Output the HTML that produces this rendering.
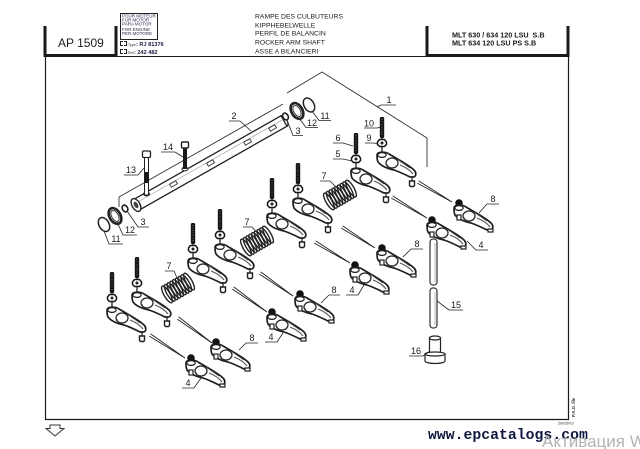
<!DOCTYPE html>
<html><head><meta charset="utf-8"><style>
html,body{margin:0;padding:0;background:#fff;}
body{width:640px;height:449px;overflow:hidden;}
svg{display:block;}
text{font-family:"Liberation Sans",Arial,sans-serif;}
</style></head><body>
<svg width="640" height="449" viewBox="0 0 640 449" xmlns="http://www.w3.org/2000/svg" xmlns:xlink="http://www.w3.org/1999/xlink">
<defs>
 <g id="body">
  <path d="M-5,0 C-5,-3 3,-4 7,-1 L19,6 C24,9 29,12 32,15 C35,18 34,22 31,22 L28,22 C24,20 18,17 12,15 C6,14 -1,11 -4,7 C-5,5 -5,2 -5,0 Z" fill="#fff" stroke="#1e1e1e" stroke-width="1.7"/>
  <path d="M18,10 C23,12 28,15 31,19" stroke="#555" stroke-width="1.2" fill="none"/>
  <ellipse cx="10" cy="8" rx="6" ry="5" fill="#fff" stroke="#2a2a2a" stroke-width="1.3"/>
  <ellipse cx="0" cy="0" rx="4.2" ry="2.4" fill="none" stroke="#1e1e1e" stroke-width="1.2"/>
  <path d="M15,4 L28,13" stroke="#444" stroke-width="0.9" fill="none"/>
  <circle cx="5" cy="10" r="0.8" fill="#333"/>
 </g>
 <g id="rA">
  <rect x="-2.2" y="-38" width="4.4" height="21" rx="1.5" fill="#151515"/>
  <line x1="0" y1="-36" x2="0" y2="-19" stroke="#666" stroke-width="1" stroke-dasharray="1 1.5"/>
  <line x1="0" y1="-17" x2="0" y2="-3" stroke="#222" stroke-width="1.3"/>
  <path d="M-4.5,-13 L-2.5,-15.5 L2.5,-15.5 L4.5,-13 L4.5,-10.5 L2.5,-8.5 L-2.5,-8.5 L-4.5,-10.5 Z" fill="#fff" stroke="#151515" stroke-width="1.5"/>
  <circle cx="0" cy="-12" r="1.5" fill="#222"/>
  <use xlink:href="#body" href="#body"/>
  <line x1="30" y1="22" x2="30" y2="26" stroke="#222" stroke-width="1.2"/>
  <path d="M27.5,26 h5 v4.5 l-1,1 h-3 l-1,-1 z" fill="#fff" stroke="#1e1e1e" stroke-width="1.4"/>
 </g>
 <g id="rB">
  <rect x="-2.5" y="0" width="5" height="6" fill="#333"/>
  <circle cx="0" cy="0" r="3.8" fill="#111"/>
  <g transform="translate(0,5)"><use xlink:href="#body" href="#body"/></g>
  <rect x="-2" y="12" width="4" height="5" fill="#fff" stroke="#222" stroke-width="1.2"/>
  <path d="M29,26 h5 v3 h-5 z" fill="#fff" stroke="#222" stroke-width="1.2"/>
 </g>
 <g id="sp" fill="none" stroke="#222" stroke-width="1.4">
  <ellipse cx="-11" cy="6.4" rx="3" ry="9.5" transform="rotate(-30 -11 6.4)" fill="#fff"/>
  <ellipse cx="-8.25" cy="4.8" rx="3" ry="9.5" transform="rotate(-30 -8.25 4.8)"/>
  <ellipse cx="-5.5" cy="3.2" rx="3" ry="9.5" transform="rotate(-30 -5.5 3.2)"/>
  <ellipse cx="-2.75" cy="1.6" rx="3" ry="9.5" transform="rotate(-30 -2.75 1.6)"/>
  <ellipse cx="0" cy="0" rx="3" ry="9.5" transform="rotate(-30 0 0)"/>
  <ellipse cx="2.75" cy="-1.6" rx="3" ry="9.5" transform="rotate(-30 2.75 -1.6)"/>
  <ellipse cx="5.5" cy="-3.2" rx="3" ry="9.5" transform="rotate(-30 5.5 -3.2)"/>
  <ellipse cx="8.25" cy="-4.8" rx="3" ry="9.5" transform="rotate(-30 8.25 -4.8)"/>
  <ellipse cx="11" cy="-6.4" rx="3" ry="9.5" transform="rotate(-30 11 -6.4)"/>
 </g>
</defs>

<!-- frame -->
<g stroke="#1a1a1a" fill="none">
 <path d="M45,26 V55.5 H116 V26" stroke-width="3"/>
 <path d="M427,26 V55.5 H568 V26" stroke-width="3"/>
 <line x1="116" y1="56.5" x2="427" y2="56.5" stroke-width="1"/>
 <path d="M45.5,56 V419.5 H568.5 V56" stroke-width="1.2"/>
</g>

<!-- header -->
<text x="58" y="47" font-size="12" fill="#1a1a1a">AP 1509</text>
<rect x="120.5" y="13.5" width="37" height="26" fill="none" stroke="#222" stroke-width="1"/>
<g font-size="4.5" fill="#2a2a50">
 <text x="122" y="17.5">POUR MOTEUR</text>
 <text x="122" y="21.5">FUR MOTOR</text>
 <text x="122" y="25.5">PARA MOTOR</text>
 <text x="122" y="31">FOR ENGINE</text>
 <text x="122" y="35">PER MOTORE</text>
</g>
<path d="M123,41.5 H120.5 V45.5 H123 M124,41.5 H126.5 V45.5 H124 M123,49.5 H120.5 V53.5 H123 M124,49.5 H126.5 V53.5 H124" fill="none" stroke="#222" stroke-width="1"/>
<text x="128" y="45.8" font-size="3.6" fill="#222">Type</text>
<text x="136" y="45.8" font-size="5.6" font-weight="bold" fill="#1a1a40">: RJ 81376</text>
<text x="128" y="53.8" font-size="3.6" fill="#222">Ref</text>
<text x="134" y="53.8" font-size="5.6" font-weight="bold" fill="#1a1a40">: 242 482</text>

<g font-size="6.8" fill="#1a1a1a">
 <text x="255" y="18.5">RAMPE DES CULBUTEURS</text>
 <text x="255" y="27.5">KIPPHEBELWELLE</text>
 <text x="255" y="35.5">PERFIL DE BALANCIN</text>
 <text x="255" y="44.5">ROCKER ARM SHAFT</text>
 <text x="255" y="53.5">ASSE A BILANCIERI</text>
</g>
<g font-size="7.2" font-weight="bold" fill="#1a1a1a" style="white-space:pre">
 <text x="452" y="37.5" xml:space="preserve">MLT 630 / 634 120 LSU  S.B</text>
 <text x="452" y="45.5" xml:space="preserve">MLT 634 120 LSU PS S.B</text>
</g>

<!-- bracket 1 -->
<g fill="none" stroke="#333" stroke-width="0.9">
 <polyline points="119,207 119,197 283,104"/>
 <polyline points="287,93 322,72 427,138 427,167"/>
</g>

<!-- guide lines -->
<g stroke="#222" stroke-width="0.9" fill="none">
 <path d="M417.3,183.1 L452,202 M418.7,180.9 L452,202"/>
 <path d="M391.3,198.1 L427,218 M392.7,195.9 L427,218"/>
 <path d="M341.3,228.1 L375,248 M342.7,225.9 L375,248"/>
 <path d="M314.3,243.1 L350,263 M315.7,240.9 L350,263"/>
 <path d="M259.3,274.1 L293,296 M260.7,271.9 L293,296"/>
 <path d="M232.3,289.1 L267,312 M233.7,286.9 L267,312"/>
 <path d="M177.3,319.1 L212,343 M178.7,316.9 L212,343"/>
 <path d="M149.3,336.1 L185,358 M150.7,333.9 L185,358"/>
</g>

<!-- shaft -->
<ellipse cx="284" cy="121" rx="3" ry="6" transform="rotate(-30 284 121)" fill="#fff" stroke="#222" stroke-width="1.2"/>
<polygon points="133,199.8 281,115.8 287,126.2 139,210.2" fill="#fff" stroke="#222" stroke-width="1.3"/>
<line x1="136" y1="203" x2="283" y2="119.5" stroke="#999" stroke-width="0.6"/>
<g fill="#fff" stroke="#333" stroke-width="0.9">
 <rect x="170" y="182.5" width="7" height="3.5" transform="rotate(-30 173 184)"/>
 <rect x="207" y="161.5" width="7" height="3.5" transform="rotate(-30 210 163)"/>
 <rect x="244" y="140.5" width="7" height="3.5" transform="rotate(-30 247 142)"/>
 <rect x="269" y="126.5" width="7" height="3.5" transform="rotate(-30 272 128)"/>
</g>
<ellipse cx="146.5" cy="194" rx="3" ry="1.8" fill="#fff" stroke="#222"/>
<ellipse cx="185" cy="169" rx="3" ry="1.8" fill="#fff" stroke="#222"/>
<ellipse cx="136" cy="205" rx="4" ry="7" transform="rotate(-30 136 205)" fill="#fff" stroke="#222" stroke-width="1.4"/>
<ellipse cx="136" cy="205" rx="2" ry="3.5" transform="rotate(-30 136 205)" fill="#444"/>

<!-- bolts -->
<rect x="144.5" y="157" width="4" height="38" fill="#fff" stroke="#222" stroke-width="1"/>
<rect x="144.5" y="172" width="4" height="11" fill="#1a1a1a"/>
<rect x="142.5" y="151" width="8" height="6.5" rx="1.2" fill="#fff" stroke="#222" stroke-width="1.3"/>
<rect x="183" y="147" width="4" height="22" fill="#1a1a1a"/>
<rect x="181.5" y="142" width="7" height="6" rx="1.2" fill="#fff" stroke="#222" stroke-width="1.4"/>

<!-- rings -->
<g fill="none" stroke="#222">
 <ellipse cx="309" cy="105" rx="5" ry="7.5" transform="rotate(-30 309 105)" stroke-width="1.5"/>
 <ellipse cx="297" cy="111" rx="5.5" ry="8.5" transform="rotate(-30 297 111)" stroke-width="2.6"/>
 <ellipse cx="297" cy="111" rx="3.3" ry="6" transform="rotate(-30 297 111)" stroke-width="0.9"/>
 <ellipse cx="285.5" cy="116.5" rx="2.6" ry="3.6" transform="rotate(-30 285.5 116.5)" fill="#fff" stroke-width="1.6"/>
 <ellipse cx="104" cy="224.5" rx="5" ry="7.5" transform="rotate(-30 104 224.5)" stroke-width="1.5"/>
 <ellipse cx="115" cy="216" rx="5.5" ry="8.5" transform="rotate(-30 115 216)" stroke-width="2.6"/>
 <ellipse cx="115" cy="216" rx="3.3" ry="6" transform="rotate(-30 115 216)" stroke-width="0.9"/>
 <ellipse cx="125" cy="208.5" rx="2.6" ry="3.6" transform="rotate(-30 125 208.5)" fill="#fff" stroke-width="1.6"/>
</g>

<!-- springs -->
<use xlink:href="#sp" href="#sp" x="340" y="195"/>
<use xlink:href="#sp" href="#sp" x="257" y="241"/>
<use xlink:href="#sp" href="#sp" x="178" y="288"/>

<!-- rockers A -->
<use xlink:href="#rA" href="#rA" x="382" y="155"/>
<use xlink:href="#rA" href="#rA" x="356" y="171"/>
<use xlink:href="#rA" href="#rA" x="298" y="201"/>
<use xlink:href="#rA" href="#rA" x="272" y="216"/>
<use xlink:href="#rA" href="#rA" x="220" y="247"/>
<use xlink:href="#rA" href="#rA" x="193" y="261"/>
<use xlink:href="#rA" href="#rA" x="137" y="295"/>
<use xlink:href="#rA" href="#rA" x="112" y="310"/>

<!-- rockers B -->
<use xlink:href="#rB" href="#rB" x="459" y="203"/>
<use xlink:href="#rB" href="#rB" x="432" y="220"/>
<use xlink:href="#rB" href="#rB" x="382" y="248"/>
<use xlink:href="#rB" href="#rB" x="355" y="265"/>
<use xlink:href="#rB" href="#rB" x="300" y="294"/>
<use xlink:href="#rB" href="#rB" x="272" y="312"/>
<use xlink:href="#rB" href="#rB" x="216" y="342"/>
<use xlink:href="#rB" href="#rB" x="191" y="358"/>

<!-- pushrod 15 -->
<g fill="#fff" stroke="#333" stroke-width="1.2">
 <rect x="430" y="239" width="7" height="46" rx="3"/>
 <rect x="430" y="288" width="7" height="40" rx="3"/>
</g>
<line x1="435" y1="243" x2="435" y2="282" stroke="#999" stroke-width="0.7"/>
<line x1="435" y1="292" x2="435" y2="325" stroke="#999" stroke-width="0.7"/>
<!-- tappet 16 -->
<g fill="#fff" stroke="#222" stroke-width="1.2">
 <rect x="429.5" y="338" width="11" height="16"/>
 <ellipse cx="435" cy="338" rx="5.5" ry="2"/>
 <path d="M425,354 h20 v7 a10,2.5 0 0 1 -20,0 z"/>
 <ellipse cx="435" cy="354" rx="10" ry="2"/>
</g>

<!-- labels -->
<g stroke="#222" stroke-width="0.8" fill="none">
 <path d="M381,105 H396 M381,105 L377,107"/>
 <path d="M229,121 H240 L251,131"/>
 <path d="M303,135.5 H293 L287,120"/>
 <path d="M318,127.5 H306 L299,118"/>
 <path d="M331,120.5 H319 L312,111"/>
 <path d="M161,152 H175 L183,157"/>
 <path d="M124,175 H138 L144,168"/>
 <path d="M149,227 H138 L127,211"/>
 <path d="M137,235 H123 L117,222"/>
 <path d="M123,244 H109 L104,231"/>
 <path d="M364,128 H377 L381,127"/>
 <path d="M333,143 H343 L353,146"/>
 <path d="M365,143 H374 L378,144"/>
 <path d="M333,159 H343 L352,161"/>
 <path d="M320,181 H330 L337,188"/>
 <path d="M243,227 H252 L258,234"/>
 <path d="M165,271 H174 L178,280"/>
 <path d="M499,204 H487 L479,213"/>
 <path d="M488,250 H476 L467,241"/>
 <path d="M423,249 H411 L403,257"/>
 <path d="M346,295 H358 L364,285"/>
 <path d="M340,295 H329 L321,303"/>
 <path d="M265,342 H277 L283,333"/>
 <path d="M258,343 H246 L239,350"/>
 <path d="M182,388 H194 L201,378"/>
 <path d="M463,310 H449 L437,301"/>
 <path d="M409,356 H423 L430,351"/>
</g>
<g font-size="9" fill="#1a1a1a" text-anchor="middle">
 <text x="389" y="103">1</text>
 <text x="234" y="119">2</text>
 <text x="298" y="134">3</text>
 <text x="312" y="126">12</text>
 <text x="325" y="119">11</text>
 <text x="168" y="150">14</text>
 <text x="131" y="173">13</text>
 <text x="143" y="225">3</text>
 <text x="130" y="233">12</text>
 <text x="116" y="242">11</text>
 <text x="369" y="126.5">10</text>
 <text x="338" y="141">6</text>
 <text x="369" y="141">9</text>
 <text x="338" y="157">5</text>
 <text x="324" y="179">7</text>
 <text x="247" y="225">7</text>
 <text x="169" y="269">7</text>
 <text x="493" y="202">8</text>
 <text x="481" y="248">4</text>
 <text x="417" y="247">8</text>
 <text x="352" y="293">4</text>
 <text x="334" y="293">8</text>
 <text x="271" y="340">4</text>
 <text x="252" y="341">8</text>
 <text x="188" y="386">4</text>
 <text x="456" y="308">15</text>
 <text x="416" y="354">16</text>
</g>

<!-- footer -->
<polygon points="50,425 60,425 60,428.5 64,428.5 55,436 46,428.5 50,428.5" fill="#fff" stroke="#333" stroke-width="1"/>
<text x="558" y="424.5" font-size="4" fill="#333">28/05/03</text>
<text transform="translate(575,417) rotate(-90)" font-size="4.2" font-weight="bold" fill="#333">P.A.O. file</text>
<text x="428" y="439" font-family="Liberation Mono, monospace" style="font-family:'Liberation Mono',monospace" font-size="14.8" font-weight="bold" fill="#101a40">www.epcatalogs.com</text>
<text x="542" y="447" font-size="17" fill="#b4b4b4">Активация W</text>
</svg>
</body></html>
